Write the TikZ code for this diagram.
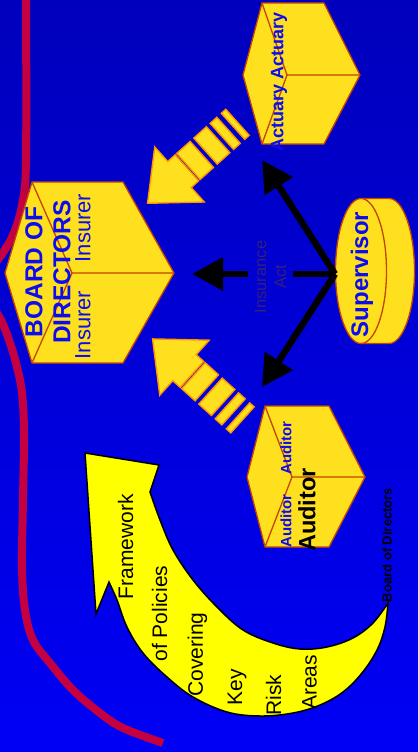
\documentclass[tikz,border=0pt]{standalone}
\usepackage{fontspec}
\setmainfont{Liberation Sans}
\usetikzlibrary{arrows.meta,shapes.geometric}
\definecolor{bgtop}{RGB}{0,0,188}
\definecolor{bgbot}{RGB}{0,0,245}
\definecolor{gold}{RGB}{255,224,30}
\definecolor{rust}{RGB}{196,68,0}
\definecolor{orng}{RGB}{255,150,0}
\definecolor{crim}{RGB}{196,0,64}
\definecolor{txtblue}{RGB}{12,12,240}
\definecolor{actc}{RGB}{52,32,122}
\definecolor{yel}{RGB}{255,255,0}
\begin{document}
\begin{tikzpicture}[x=1pt,y=-1pt,
  cube/.style={fill=gold,draw=rust,line width=1.3pt,line join=round},
  cubeedge/.style={draw=rust,line width=1.3pt},
  stripe/.style={fill=gold,draw=orng,line width=1.4pt,line join=miter},
  redline/.style={draw=crim,line width=8pt},
  blackline/.style={draw=black,line width=6.5pt},
  blackarrow/.style={blackline,-{Triangle[length=31pt,width=32pt]}},
  curvearrow/.style={fill=yel,draw=black,line width=1.5pt,line join=miter},
  lbl/.style={rotate=90,inner sep=0pt,anchor=center},
  bigblue/.style={lbl,text=txtblue,font=\fontsize{24.5pt}{28pt}\selectfont\bfseries,align=center},
  insurer/.style={lbl,text=txtblue,font=\fontsize{22pt}{26pt}\selectfont},
  smallblue/.style={lbl,text=txtblue,font=\fontsize{15pt}{18pt}\selectfont\bfseries},
  curvetext/.style={lbl,text=black,font=\fontsize{21pt}{25pt}\selectfont}
]
\useasboundingbox (0,0) rectangle (418,752);
\shade[top color=bgtop,bottom color=bgbot] (0,0) rectangle (418,752);

% red curves
\draw[redline] plot[smooth,tension=0.6] coordinates {(26,-6) (26,160) (22,205) (13,235) (0,257) (-8,266)};
\draw[redline] plot[smooth,tension=0.6] coordinates {(-4,312) (2,322) (10,343) (17,367) (22,393) (24,433) (23,500) (22,567) (25,610) (33,640) (50,663) (73,690) (100,713) (123,728) (163,743)};

% Board of directors cube
\path[cube] (32,182) -- (123,182) -- (174,273) -- (123,363) -- (32,363) -- (5,273) -- cycle;
\draw[cubeedge] (32,182) -- (72,273) -- (174,273) (72,273) -- (32,363);
\node[bigblue] (board) at (48,272) {BOARD OF\\DIRECTORS};
\node[insurer] (ins1) at (83,228) {Insurer};
\node[insurer] (ins2) at (83,325) {Insurer};

% Actuary cube
\path[cube] (262,3) -- (324,3) -- (360,75) -- (324,144) -- (262,144) -- (243,75) -- cycle;
\draw[cubeedge] (262,3) -- (287,75) -- (360,75) (287,75) -- (262,144);
\node[lbl,text=txtblue,font=\fontsize{18pt}{21pt}\selectfont\bfseries] (actuary) at (279,82) {Actuary Actuary};

% Auditor cube
\path[cube] (265,406) -- (329,406) -- (365,477) -- (329,547) -- (265,547) -- (247,477) -- cycle;
\draw[cubeedge] (265,406) -- (292,477) -- (365,477) (292,477) -- (265,547);
\node[smallblue] (aud1) at (286,448) {Auditor};
\node[smallblue] (aud2) at (286,521) {Auditor};
\node[lbl,text=black,font=\fontsize{23.6pt}{27pt}\selectfont\bfseries] (aud3) at (307,510) {Auditor};

% Supervisor cylinder
\path[cube] (361,198.5) -- (389,198.5) arc[start angle=-90,end angle=90,x radius=25.5,y radius=72.5] -- (361,343.5) -- cycle;
\node[ellipse,fill=gold,draw=rust,line width=1.3pt,minimum width=51pt,minimum height=145pt,inner sep=0pt] (sup) at (361,271) {};
\node[lbl,text=txtblue,font=\fontsize{24pt}{28pt}\selectfont\bfseries] (suplbl) at (362,274.5) {Supervisor};

% black arrows
\coordinate (j) at (335,274);
\coordinate (tipA) at (262,160);
\coordinate (tipB) at (262,387);
\coordinate (tipM) at (192,274);
\draw[blackarrow] (j) -- (tipA);
\draw[blackarrow] (j) -- (tipB);
\node[lbl,text=actc,font=\fontsize{16.5pt}{20pt}\selectfont,align=center,minimum height=45pt] (act) at (270.5,277) {Insurance\\Act};
\draw[blackline] (j) -- (j -| act.south);
\draw[blackarrow] (act.north |- j) -- (tipM);

% striped yellow arrows
\begin{scope}[shift={(179.5,174.5)},rotate=42]
  \path[stripe] (-43,0) -- (0,-37) -- (0,-17.5) -- (10,-17.5) -- (10,17.5) -- (0,17.5) -- (0,37) -- cycle;
  \path[stripe] (12,-17.5) rectangle (30,17.5);
  \path[stripe] (35,-17.5) rectangle (52,17.5);
  \path[stripe] (57,-17.5) rectangle (66,17.5);
  \path[stripe] (72,-17.5) rectangle (78,17.5);
\end{scope}
\begin{scope}[shift={(184.5,367.7)},rotate=-42]
  \path[stripe] (-43,0) -- (0,-37) -- (0,-17.5) -- (10,-17.5) -- (10,17.5) -- (0,17.5) -- (0,37) -- cycle;
  \path[stripe] (12,-17.5) rectangle (30,17.5);
  \path[stripe] (35,-17.5) rectangle (52,17.5);
  \path[stripe] (57,-17.5) rectangle (66,17.5);
  \path[stripe] (72,-17.5) rectangle (78,17.5);
\end{scope}

% curved yellow arrow
\draw[curvearrow] (85,453) -- (159,465) -- (150,492)
  -- plot[smooth,tension=0.6] coordinates {(150,492) (160,520) (173,550) (193,580) (217,607) (243,630) (273,643) (300,649) (327,647) (353,638) (373,623) (388,603)}
  -- plot[smooth,tension=0.6] coordinates {(388,603) (385,627) (377,650) (362,673) (343,692) (320,705) (293,713) (260,716) (227,712) (193,697) (167,677) (143,653) (127,627) (117,600) (109,582)}
  -- (96,614) -- cycle;
\node[curvetext] (t1) at (125.5,546.5) {Framework};
\node[curvetext] (t2) at (159.5,613.5) {of Policies};
\node[curvetext] (t3) at (197.5,654.5) {Covering};
\node[curvetext] (t4) at (237,687.5) {Key};
\node[curvetext] (t5) at (273.5,695) {Risk};
\node[curvetext] (t6) at (309.5,682.5) {Areas};
\node[lbl,text=black,font=\fontsize{13pt}{15pt}\selectfont\bfseries] (bod) at (387,545) {Board of Directors};
\end{tikzpicture}
\end{document}
